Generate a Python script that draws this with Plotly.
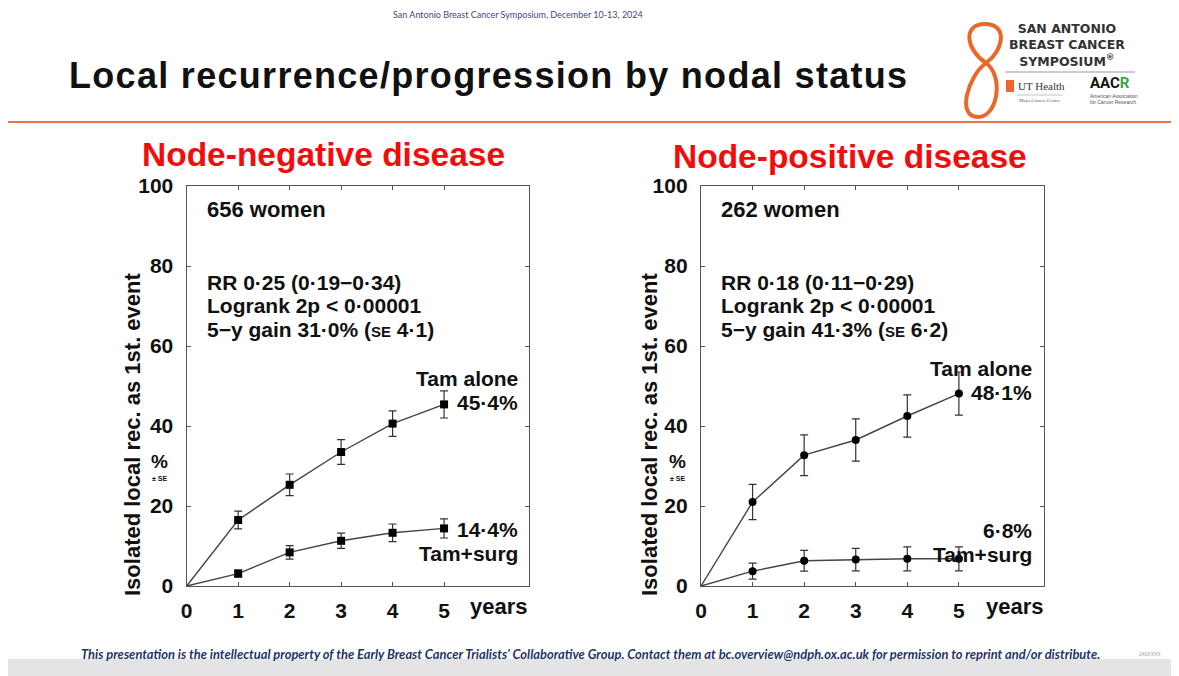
import plotly.graph_objects as go
from plotly.subplots import make_subplots

W, H = 1179, 676
OFF = 8  # the page body margin shifts the figure by 8px

# data (cumulative %, +/- SE)
years = [0, 1, 2, 3, 4, 5]
neg_tam = [0, 16.5, 25.3, 33.5, 40.6, 45.4]
neg_tam_se = [0, 2.2, 2.7, 3.1, 3.2, 3.4]
neg_surg = [0, 3.1, 8.4, 11.3, 13.3, 14.4]
neg_surg_se = [0, 0.9, 1.7, 1.9, 2.2, 2.4]
pos_tam = [0, 21.0, 32.7, 36.5, 42.5, 48.1]
pos_tam_se = [0, 4.4, 5.1, 5.3, 5.3, 5.4]
pos_surg = [0, 3.7, 6.3, 6.6, 6.8, 6.8]
pos_surg_se = [0, 2.0, 2.6, 2.8, 3.0, 3.0]

x_ticks = [0, 1, 2, 3, 4, 5]
y_ticks = [0, 20, 40, 60, 80, 100]


def px(x, y):
    # screen pixel -> paper coords
    return (x - OFF) / W, 1 - (y - OFF) / H


FONT = "Liberation Sans, Arial"
INK = "#111111"

fig = make_subplots(rows=1, cols=2)
x1a, _ = px(186.7, 0)
x1b, _ = px(529, 0)
x2a, _ = px(701, 0)
x2b, _ = px(1044, 0)
_, yb = px(0, 586)
_, yt = px(0, 186)
fig.update_layout(
    xaxis=dict(domain=[x1a, x1b]),
    xaxis2=dict(domain=[x2a, x2b]),
    yaxis=dict(domain=[yb, yt]),
    yaxis2=dict(domain=[yb, yt]),
)

panels = [
    (1, neg_tam, neg_tam_se, neg_surg, neg_surg_se, "square"),
    (2, pos_tam, pos_tam_se, pos_surg, pos_surg_se, "circle"),
]
for col, tam, tam_se, surg, surg_se, sym in panels:
    for vals, se in [(tam, tam_se), (surg, surg_se)]:
        fig.add_trace(go.Scatter(x=years, y=vals, mode="lines",
                                 line=dict(color="#444444", width=1.4),
                                 hoverinfo="skip"), row=1, col=col)
        fig.add_trace(go.Scatter(x=years[1:], y=vals[1:], mode="markers",
                                 marker=dict(symbol=sym, size=8, color="#000000"),
                                 error_y=dict(type="data", array=se[1:], visible=True,
                                              color="#333333", thickness=1.2, width=4)),
                      row=1, col=col)

axis_common = dict(showgrid=False, zeroline=False, showline=True, mirror="ticks",
                   linecolor="#555555", linewidth=1.4, ticks="inside", ticklen=4,
                   tickcolor="#555555", tickwidth=1.2, automargin=False,
                   tickfont=dict(family=FONT, size=21, color=INK, weight="bold"))
for i in (1, 2):
    fig.update_xaxes(range=[0, 6.65], tickvals=x_ticks, ticklabelstandoff=6,
                     row=1, col=i, **axis_common)
    fig.update_yaxes(range=[0, 100], tickvals=y_ticks, ticklabelstandoff=8,
                     row=1, col=i, **axis_common)

ann = []


def text(x, y, s, size=21, color=INK, xanchor="left", bold=True, family=FONT,
         angle=0, italic=False):
    xp, yp = px(x, y)
    ann.append(dict(x=xp, y=yp, xref="paper", yref="paper", text=s, showarrow=False,
                    xanchor=xanchor, yanchor="middle", textangle=angle,
                    font=dict(family=family, size=size, color=color,
                              weight="bold" if bold else "normal",
                              style="italic" if italic else "normal")))


se = "<span style='font-size:15px'>SE</span>"
panel_text = [
    dict(lx=205, women="656 women", rr="RR 0·25 (0·19−0·34)",
         gain="5−y gain 31·0% (" + se + " 4·1)", rx=520, ty=(378, 402), tval="45·4%",
         sy=(529, 553), sval="14·4%", yrs=499, ytl=133, pct=160),
    dict(lx=719, women="262 women", rr="RR 0·18 (0·11−0·29)",
         gain="5−y gain 41·3% (" + se + " 6·2)", rx=1034, ty=(368, 392), tval="48·1%",
         sy=(530, 554), sval="6·8%", yrs=1015, ytl=650, pct=677),
]
for p in panel_text:
    text(p["lx"], 209, p["women"], size=22)
    text(p["lx"], 282, p["rr"])
    text(p["lx"], 305.7, "Logrank 2p < 0·00001")
    text(p["lx"], 329.4, p["gain"])
    text(p["rx"], p["ty"][0], "Tam alone", xanchor="right")
    text(p["rx"], p["ty"][1], p["tval"], xanchor="right")
    text(p["rx"], p["sy"][0], p["sval"], xanchor="right")
    text(p["rx"], p["sy"][1], "Tam+surg", xanchor="right")
    text(p["yrs"], 606, "years", size=22, xanchor="center")
    text(p["ytl"], 435, "Isolated local rec. as 1st. event", size=22,
         xanchor="center", angle=-90)
    text(p["pct"], 461, "%", size=19, xanchor="center")
    text(p["pct"], 478, "± SE", size=7, xanchor="center")

# slide titles
text(67, 75, "<span style='letter-spacing:1.3px'>Local recurrence/progression by "
     "nodal status</span>", size=36)
text(323, 154, "Node-negative disease", size=33.5, color="#f20c0c", xanchor="center")
text(850, 157, "Node-positive disease", size=33.5, color="#f20c0c", xanchor="center")
text(518, 15, "San Antonio Breast Cancer Symposium, December 10-13, 2024", size=9,
     color="#3c4a7a", xanchor="center", bold=False, family="Lato")
text(590, 654, "This presentation is the intellectual property of the Early Breast Cancer "
     "Trialists’ Collaborative Group. Contact them at bc.overview@ndph.ox.ac.uk for "
     "permission to reprint and/or distribute.", size=12.9, color="#1f3466",
     xanchor="center", family="Lato", italic=True)
text(1150, 654, "240XXXX", size=5, color="#999999", xanchor="center", bold=False)

# logo block
text(1007, 45, "SAN ANTONIO<br>BREAST CANCER<br>SYMPOSIUM<sup>®</sup>", size=12.5,
     color="#333333", family="DejaVu Sans")
text(1016, 86, "UT Health", size=11, color="#333333", bold=False,
     family="Liberation Serif")
text(1017, 101, "Mays Cancer Center", size=5, color="#555555", bold=False,
     family="Liberation Serif")
text(1088, 83, "AAC<span style='color:#3aa54a'>R</span>", size=15, color="#111111",
     family="Roboto")
text(1088, 96, "American Association", size=5, color="#555555", bold=False)
text(1088, 102, "for Cancer Research", size=5, color="#555555", bold=False)


def seg(xa, ya, xb, yb_, color, width):
    a, b = px(xa, ya)
    c, d = px(xb, yb_)
    return dict(type="line", xref="paper", yref="paper", x0=a, y0=b, x1=c, y1=d,
                line=dict(color=color, width=width))


def path(cmds):
    out = []
    for c in cmds:
        if isinstance(c, str):
            out.append(c)
        else:
            a, b = px(*c)
            out.append(f"{a:.5f},{b:.5f}")
    return " ".join(out)


# ribbon "8" of the symposium logo (crossing at the waist)
ribbon = path(["M", (986, 63),
               "C", (966, 50), (962, 24), (985, 24),
               "C", (1008, 24), (1004, 50), (986, 63),
               "C", (968, 76), (956, 117), (978, 117),
               "C", (998, 117), (1004, 76), (986, 63)])

sx0, sy0 = px(OFF, OFF)
sx1, sy1 = px(1171, 659)
shapes = [
    dict(type="rect", xref="paper", yref="paper", x0=sx0, x1=sx1, y0=sy1, y1=sy0,
         fillcolor="white", line=dict(width=0), layer="below"),
    seg(6, 122, 1179, 122, "#e8734a", 2),
    seg(1005, 72, 1135, 72, "#999999", 1),
    seg(1017, 95, 1062, 95, "#999999", 0.6),
    dict(type="path", xref="paper", yref="paper", path=ribbon,
         line=dict(color="#e8692c", width=4)),
]
ux0, uy0 = px(1006, 80)
ux1, uy1 = px(1014, 92)
shapes.append(dict(type="rect", xref="paper", yref="paper", x0=ux0, x1=ux1, y0=uy1,
                   y1=uy0, fillcolor="#e8692c", line=dict(width=0)))

fig.update_layout(
    width=W, height=H, margin=dict(l=0, r=0, t=0, b=0),
    paper_bgcolor="#e4e4e6", plot_bgcolor="rgba(0,0,0,0)",
    showlegend=False, annotations=ann, shapes=shapes,
    font=dict(family=FONT),
)

fig.write_html("out.html")
